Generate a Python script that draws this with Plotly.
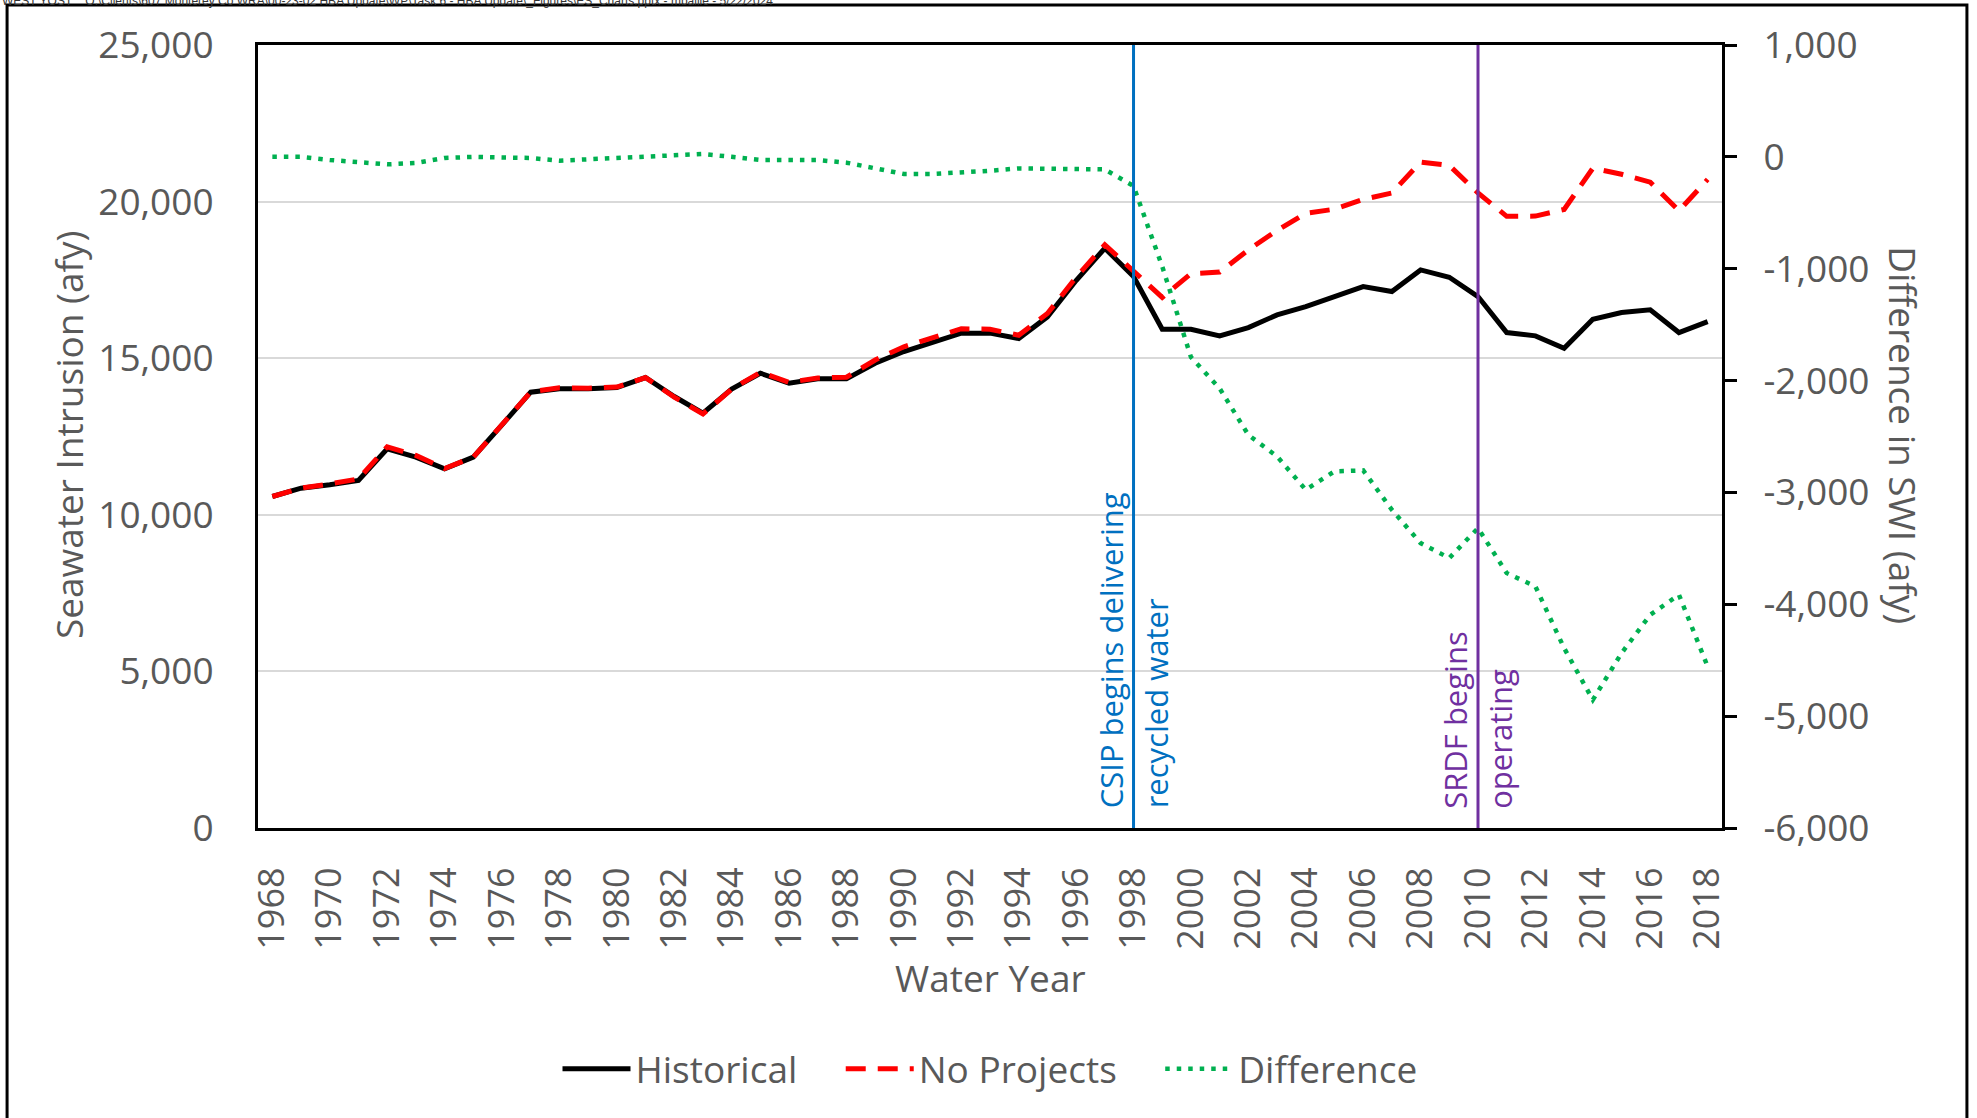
import plotly.graph_objects as go

years = list(range(1968, 2019))

historical = [10585, 10851, 10957, 11096, 12106, 11840, 11468, 11840, 12872, 13915,
              14021, 14021, 14064, 14383, 13777, 13245, 14011, 14521, 14202, 14340,
              14340, 14840, 15213, 15500, 15800, 15800, 15630, 16320, 17480, 18511,
              17606, 15926, 15926, 15713, 15979, 16383, 16649, 16968, 17287, 17128,
              17819, 17585, 16968, 15819, 15713, 15319, 16245, 16457, 16543, 15819,
              16170]

no_projects = [10585, 10851, 10985, 11145, 12173, 11895, 11478, 11840, 12879, 13925,
               14055, 14043, 14077, 14381, 13757, 13219, 14011, 14549, 14230, 14368,
               14392, 14943, 15366, 15653, 15941, 15924, 15733, 16426, 17583, 18623,
               17800, 16940, 17700, 17750, 18460, 19080, 19627, 19757, 20070, 20275,
               21263, 21155, 20277, 19530, 19537, 19750, 21065, 20872, 20620, 19707,
               20708]

difference = [0, 0, -28, -49, -67, -55, -10, 0, -7, -10,
              -34, -22, -13, 2, 20, 26, 0, -28, -28, -28,
              -52, -103, -153, -153, -141, -124, -103, -106, -103, -112,
              -260, -980, -1790, -2070, -2486, -2678, -2976, -2812, -2803, -3155,
              -3453, -3587, -3319, -3721, -3840, -4392, -4854, -4437, -4094, -3915,
              -4556]

x_ticks = list(range(1968, 2019, 2))
x_ticktext = [str(y) for y in x_ticks]
left_ticks = [0, 5000, 10000, 15000, 20000, 25000]
left_ticktext = ["0", "5,000", "10,000", "15,000", "20,000", "25,000"]
right_ticks = [-6000, -5000, -4000, -3000, -2000, -1000, 0, 1000]
right_ticktext = ["-6,000", "-5,000", "-4,000", "-3,000", "-2,000", "-1,000", "0", "1,000"]

events = [(1998, "CSIP begins delivering", "recycled water", "#0070C0"),
          (2010, "SRDF begins", "operating", "#7030A0")]

FONT = "Open Sans"
GREY = "#595959"
PAD = "&nbsp;" * 4

fig = go.Figure()
fig.add_trace(go.Scatter(x=years, y=historical, name="Historical" + PAD, mode="lines",
                         line=dict(color="black", width=5)))
fig.add_trace(go.Scatter(x=years, y=no_projects, name="No Projects" + PAD, mode="lines",
                         line=dict(color="#FF0000", width=5, dash="20px,12px")))
fig.add_trace(go.Scatter(x=years, y=difference, name="Difference", mode="lines",
                         yaxis="y2",
                         line=dict(color="#00B050", width=4.5, dash="4.5px,7px")))

shapes = []
annotations = []
for yr, t1, t2, col in events:
    shapes.append(dict(type="line", xref="x", yref="paper", x0=yr, x1=yr, y0=0, y1=1,
                       line=dict(color=col, width=3), layer="above"))
    annotations.append(dict(x=yr, y=0.022, xref="x", yref="paper", text=t1,
                            textangle=-90, xanchor="center", yanchor="bottom",
                            xshift=-23, showarrow=False,
                            font=dict(family=FONT, size=31, color=col)))
    annotations.append(dict(x=yr, y=0.022, xref="x", yref="paper", text=t2,
                            textangle=-90, xanchor="center", yanchor="bottom",
                            xshift=22, showarrow=False,
                            font=dict(family=FONT, size=31, color=col)))

# outer frame
shapes.append(dict(type="rect", xref="paper", yref="paper",
                   x0=-0.1714, x1=1.1673, y0=-0.6, y1=1.0511,
                   line=dict(color="black", width=3), layer="below"))

# axis titles
annotations.append(dict(x=-0.129, y=0.502, xref="paper", yref="paper",
                        text="Seawater Intrusion (afy)", textangle=-90, showarrow=False,
                        xanchor="center", yanchor="middle",
                        font=dict(family=FONT, size=37, color=GREY)))
annotations.append(dict(x=1.1235, y=0.502, xref="paper", yref="paper",
                        text="Difference in SWI (afy)", textangle=90, showarrow=False,
                        xanchor="center", yanchor="middle",
                        font=dict(family=FONT, size=37, color=GREY)))
annotations.append(dict(x=0.5, y=-0.1903, xref="paper", yref="paper",
                        text="Water Year", showarrow=False,
                        xanchor="center", yanchor="middle",
                        font=dict(family=FONT, size=37, color=GREY)))
# header line (partly cut off at the top, as in the source)
annotations.append(dict(x=-0.176, y=1.0565, xref="paper", yref="paper",
                        text="WEST YOST    O:\\Clients\\607 Monterey Co WRA\\00-23-02 HBA Update\\WP\\Task 6 - HBA Update\\_Figures\\ES_Charts.pptx - mballie - 5/22/2024",
                        showarrow=False, xanchor="left", yanchor="middle",
                        font=dict(family="Liberation Sans", size=12, color="#333333")))

fig.update_layout(
    width=1977, height=1118,
    margin=dict(l=258, r=255, t=45, b=290),
    paper_bgcolor="white", plot_bgcolor="white",
    font=dict(family=FONT, size=37, color=GREY),
    showlegend=True,
    legend=dict(orientation="h", x=0.5, xanchor="center", y=-0.308, yanchor="middle",
                font=dict(family=FONT, size=37, color=GREY), itemwidth=68,
                bgcolor="rgba(0,0,0,0)"),
    xaxis=dict(range=[1967.5, 2018.5], tickvals=x_ticks, ticktext=x_ticktext,
               tickangle=-90, showgrid=False, zeroline=False,
               showline=True, linecolor="black", linewidth=3, mirror=True,
               ticks="", ticklabelstandoff=22,
               tickfont=dict(family=FONT, size=36, color=GREY)),
    yaxis=dict(range=[0, 25000], tickvals=left_ticks, ticktext=left_ticktext,
               showgrid=True, gridcolor="#D9D9D9", gridwidth=2, zeroline=False,
               showline=True, linecolor="black", linewidth=3, ticks="",
               ticklabelstandoff=34,
               tickfont=dict(family=FONT, size=37, color=GREY)),
    yaxis2=dict(range=[-6000, 1000], tickvals=right_ticks, ticktext=right_ticktext,
                overlaying="y", side="right", showgrid=False, zeroline=False,
                showline=True, linecolor="black", linewidth=3,
                ticks="outside", ticklen=12, tickwidth=3, tickcolor="black",
                ticklabelstandoff=19,
                tickfont=dict(family=FONT, size=37, color=GREY)),
    shapes=shapes,
    annotations=annotations,
)

fig.write_html("out.html",
               config={"displayModeBar": False},
               post_script="document.body.style.margin='0px';document.body.style.overflow='hidden';")
